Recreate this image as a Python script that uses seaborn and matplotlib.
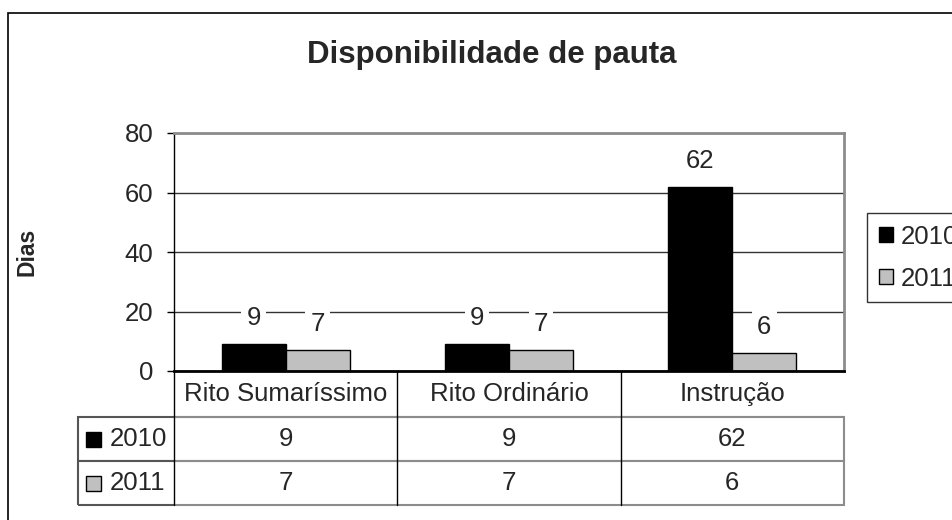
import numpy as np
import pandas as pd
import matplotlib
matplotlib.use('Agg')
import matplotlib.pyplot as plt
from matplotlib.patches import Rectangle, Patch
from matplotlib.table import Table
import seaborn as sns

# data
categorias = ['Rito Sumaríssimo', 'Rito Ordinário', 'Instrução']
anos = ['2010', '2011']
dias_2010 = [9, 9, 62]
dias_2011 = [7, 7, 6]
cores = ['#000000', '#C0C0C0']
yticks = [0, 20, 40, 60, 80]

df = pd.DataFrame({
    'categoria': categorias * 2,
    'ano': [anos[0]] * 3 + [anos[1]] * 3,
    'dias': dias_2010 + dias_2011,
})

sns.set_theme(style='white')
plt.rcParams['font.family'] = ['Liberation Sans', 'DejaVu Sans']

W, H = 953, 520
fig = plt.figure(figsize=(W / 100, H / 100), dpi=100)

# plot area in pixels: x 174-844, y 133-371
ax = fig.add_axes([174 / W, 1 - 371 / H, 670 / W, 238 / H])

sns.barplot(data=df, x='categoria', y='dias', hue='ano', order=categorias,
            hue_order=anos, palette=cores, saturation=1, width=0.573,
            edgecolor='black', linewidth=1, legend=False, ax=ax, zorder=2)

ax.set_xlim(-0.5, 2.5)
ax.set_ylim(0, 80)
ax.set_yticks(yticks)
ax.set_xticks([])
ax.set_xlabel('')
ax.set_ylabel('')
ax.tick_params(axis='y', direction='out', length=5, width=1, color='black',
               pad=10, labelsize=18.5, left=True)
ax.yaxis.grid(True, color='#333333', linewidth=1)
ax.set_axisbelow(True)

for side in ['top', 'right']:
    ax.spines[side].set_color('#8c8c8c')
    ax.spines[side].set_linewidth(2)
ax.spines['left'].set_color('black')
ax.spines['left'].set_linewidth(1)
ax.spines['bottom'].set_color('black')
ax.spines['bottom'].set_linewidth(2)
ax.spines['bottom'].set_zorder(5)

# value labels with white boxes over the gridlines
for cont in ax.containers:
    ax.bar_label(cont, padding=10, fontsize=18.5,
                 bbox=dict(facecolor='white', edgecolor='none',
                           boxstyle='square,pad=0.2'))

# data table under the axis
tab_h = 134 / 238
tab = Table(ax, bbox=[(78 - 174) / 670, -tab_h, (844 - 78) / 670, tab_h])
row_h = [46, 44, 44]
col_w = [96, 670 / 3, 670 / 3, 670 / 3]
linhas = [dias_2010, dias_2011]
for j, cat in enumerate(categorias):
    c = tab.add_cell(0, j + 1, col_w[j + 1], row_h[0], text=cat, loc='center',
                     edgecolor='#8c8c8c')
    c.visible_edges = 'B'
for i, ano in enumerate(anos):
    c = tab.add_cell(i + 1, 0, col_w[0], row_h[i + 1], text=ano, loc='left',
                     edgecolor='#555555')
    c.PAD = 0.33
    c.visible_edges = 'BTL'
    for j, v in enumerate(linhas[i]):
        c = tab.add_cell(i + 1, j + 1, col_w[j + 1], row_h[i + 1], text=str(v),
                         loc='center', edgecolor='#8c8c8c')
        c.visible_edges = 'BTR' if j == 2 else 'BT'
tab.auto_set_font_size(False)
tab.set_fontsize(18.5)
for c in tab.get_celld().values():
    c.set_linewidth(1.5)
ax.add_table(tab)

# black column separators through the table
for b in [-0.5, 0.5, 1.5]:
    ax.plot([b, b], [0, -tab_h], transform=ax.get_xaxis_transform(),
            color='black', linewidth=1, clip_on=False, zorder=6)

# series keys inside the row label cells
for i in range(2):
    yc = 1 - (417 + row_h[1] * i + row_h[1] / 2) / H
    fig.patches.append(Rectangle((86 / W, yc - 7.5 / H), 15 / W, 15 / H,
                                 transform=fig.transFigure, facecolor=cores[i],
                                 edgecolor='black', linewidth=1))

# legend on the right (partly cut by the figure edge)
handles = [Patch(facecolor=cores[i], edgecolor='black', linewidth=1)
           for i in range(2)]
leg = fig.legend(handles, anos, loc='upper left',
                 bbox_to_anchor=(867 / W, 1 - 213 / H), fontsize=18.5,
                 frameon=True, fancybox=False, edgecolor='black',
                 handlelength=0.55, handleheight=0.55, handletextpad=0.3,
                 labelspacing=0.7, borderpad=0.45, borderaxespad=0)
leg.get_frame().set_linewidth(1)

fig.text(492 / W, 1 - 63 / H, 'Disponibilidade de pauta', ha='center',
         va='baseline', fontsize=22.5, fontweight='bold')
fig.text(27 / W, 1 - 252 / H, 'Dias', ha='center', va='center', rotation=90,
         fontsize=16.5, fontweight='bold')

# outer chart border
fig.patches.append(Rectangle((8 / W, -0.1), 1.2, 1 - 13 / H + 0.1,
                             transform=fig.transFigure, facecolor='none',
                             edgecolor='black', linewidth=1.2))

fig.savefig('out.png', dpi=100)
